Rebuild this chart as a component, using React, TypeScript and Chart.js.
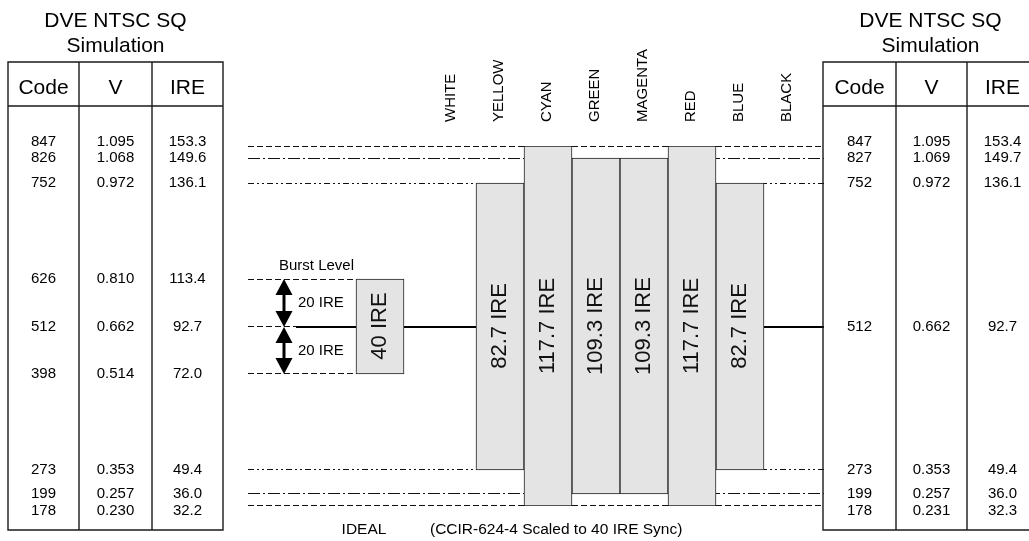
import React, { useEffect, useRef } from 'react';
import { Chart, registerables, LinearScale } from 'chart.js';

// ---------------- data ----------------
const COLOR_NAMES = ['WHITE', 'YELLOW', 'CYAN', 'GREEN', 'MAGENTA', 'RED', 'BLUE', 'BLACK'];
const BAR_TOP_IRE = [null, 136.1, 153.3, 149.6, 149.6, 153.3, 136.1, null];
const BAR_BOTTOM_IRE = [null, 49.4, 32.2, 36.0, 36.0, 32.2, 49.4, null];
const BAR_TEXT = ['', '82.7 IRE', '117.7 IRE', '109.3 IRE', '109.3 IRE', '117.7 IRE', '82.7 IRE', ''];

const BLANK_IRE = 92.7;
const BURST_TOP_IRE = 113.4;
const BURST_BOTTOM_IRE = 72.0;
const BURST_TEXT = '40 IRE';
const BURST_HALF_TEXT = '20 IRE';
const BURST_CAPTION = 'Burst Level';

const DASH_LEVELS = [153.3, 32.2];
const DASHDOT_LEVELS = [149.6, 36.0];
const DASHDOTDOT_LEVELS = [136.1, 49.4];

const LEFT_CODE = ['847', '826', '752', '626', '512', '398', '273', '199', '178'];
const LEFT_V = ['1.095', '1.068', '0.972', '0.810', '0.662', '0.514', '0.353', '0.257', '0.230'];
const LEFT_IRE = ['153.3', '149.6', '136.1', '113.4', '92.7', '72.0', '49.4', '36.0', '32.2'];

const RIGHT_CODE = ['847', '827', '752', '512', '273', '199', '178'];
const RIGHT_V = ['1.095', '1.069', '0.972', '0.662', '0.353', '0.257', '0.231'];
const RIGHT_IRE = ['153.4', '149.7', '136.1', '92.7', '49.4', '36.0', '32.3'];

const TABLE_TITLE = ['DVE NTSC SQ', 'Simulation'];
const TABLE_HEAD = ['Code', 'V', 'IRE'];
const FOOT_LEFT = 'IDEAL';
const FOOT_RIGHT = '(CCIR-624-4 Scaled to 40 IRE Sync)';

// ---------------- layout (positions / styles) ----------------
const W = 1029;
const H = 541;
const FONT = '"Liberation Sans", Arial, Helvetica, sans-serif';
const X_MIN = -4.25;
const X_MAX = 7.75;
const BURST_POS = -1.5;
const ARROW_POS = -3.5;
const BLANK_SOLID_FROM = -3.25;
// schematic (not-to-scale) vertical axis: IRE level -> fraction of plot height
const SCHEMATIC_IRE = [153.3, 149.6, 136.1, 113.4, 92.7, 72.0, 49.4, 36.0, 32.2];
const SCHEMATIC_FRAC = [0, 12, 37, 133, 181, 228, 324, 348, 360].map((v) => v / 360);

const LEFT_COLS = [8, 79, 152, 223];
const RIGHT_COLS = [823, 896, 967, 1038];
const TABLE_TOP = 62;
const TABLE_HEAD_BOTTOM = 106;
const TABLE_BOTTOM = 530;

function schematicFraction(v: number): number {
  const n = SCHEMATIC_IRE.length;
  let i = 0;
  if (v >= SCHEMATIC_IRE[0]) i = 0;
  else if (v <= SCHEMATIC_IRE[n - 1]) i = n - 2;
  else {
    for (i = 0; i < n - 1; i++) {
      if (v <= SCHEMATIC_IRE[i] && v >= SCHEMATIC_IRE[i + 1]) break;
    }
  }
  const t = (SCHEMATIC_IRE[i] - v) / (SCHEMATIC_IRE[i] - SCHEMATIC_IRE[i + 1]);
  return SCHEMATIC_FRAC[i] + t * (SCHEMATIC_FRAC[i + 1] - SCHEMATIC_FRAC[i]);
}

function schematicValue(f: number): number {
  const n = SCHEMATIC_FRAC.length;
  let i = 0;
  for (i = 0; i < n - 2; i++) {
    if (f <= SCHEMATIC_FRAC[i + 1]) break;
  }
  const t = (f - SCHEMATIC_FRAC[i]) / (SCHEMATIC_FRAC[i + 1] - SCHEMATIC_FRAC[i]);
  return SCHEMATIC_IRE[i] + t * (SCHEMATIC_IRE[i + 1] - SCHEMATIC_IRE[i]);
}

class SchematicScale extends (LinearScale as any) {
  static id = 'schematic';
  static defaults = (LinearScale as any).defaults;
  getPixelForValue(value: number) {
    return this.top + schematicFraction(value) * (this.bottom - this.top);
  }
  getValueForPixel(pixel: number) {
    return schematicValue((pixel - this.top) / (this.bottom - this.top));
  }
}

Chart.register(...registerables, SchematicScale as any);

// bar items: burst box + colour bars
const BAR_ITEMS: { x: number; lo: number; hi: number; text: string }[] = [
  { x: BURST_POS, lo: BURST_BOTTOM_IRE, hi: BURST_TOP_IRE, text: BURST_TEXT },
];
COLOR_NAMES.forEach((_, i) => {
  const hi = BAR_TOP_IRE[i];
  const lo = BAR_BOTTOM_IRE[i];
  if (hi != null && lo != null) BAR_ITEMS.push({ x: i, lo, hi, text: BAR_TEXT[i] });
});

function levelLine(level: number, from: number, to: number, dash: number[], width = 1, color = '#111') {
  return {
    type: 'line' as const,
    data: [
      { x: from, y: level },
      { x: to, y: level },
    ],
    borderColor: color,
    borderWidth: width,
    borderDash: dash,
    pointRadius: 0,
    fill: false,
    tension: 0,
    order: 2,
    clip: false as any,
  };
}

const DASH = [6, 3];
const DASHDOT = [12, 3, 2, 3];
const DASHDOTDOT = [6, 3, 2, 3, 2, 3];

function font(size: number) {
  return `${size}px ${FONT}`;
}

function drawArrow(ctx: CanvasRenderingContext2D, x: number, yTop: number, yBot: number) {
  const hw = 8.5;
  const hl = 16;
  ctx.save();
  ctx.strokeStyle = '#000';
  ctx.fillStyle = '#000';
  ctx.lineWidth = 3;
  ctx.beginPath();
  ctx.moveTo(x, yTop + hl - 1);
  ctx.lineTo(x, yBot - hl + 1);
  ctx.stroke();
  ctx.beginPath();
  ctx.moveTo(x, yTop);
  ctx.lineTo(x - hw, yTop + hl);
  ctx.lineTo(x + hw, yTop + hl);
  ctx.closePath();
  ctx.fill();
  ctx.beginPath();
  ctx.moveTo(x, yBot);
  ctx.lineTo(x - hw, yBot - hl);
  ctx.lineTo(x + hw, yBot - hl);
  ctx.closePath();
  ctx.fill();
  ctx.restore();
}

function drawTable(
  ctx: CanvasRenderingContext2D,
  cols: number[],
  yScale: any,
  code: string[],
  volts: string[],
  ire: string[]
) {
  ctx.save();
  ctx.strokeStyle = '#1a1a1a';
  ctx.lineWidth = 1.4;
  ctx.beginPath();
  ctx.rect(cols[0], TABLE_TOP, cols[3] - cols[0], TABLE_BOTTOM - TABLE_TOP);
  ctx.moveTo(cols[0], TABLE_HEAD_BOTTOM);
  ctx.lineTo(cols[3], TABLE_HEAD_BOTTOM);
  ctx.moveTo(cols[1], TABLE_TOP);
  ctx.lineTo(cols[1], TABLE_BOTTOM);
  ctx.moveTo(cols[2], TABLE_TOP);
  ctx.lineTo(cols[2], TABLE_BOTTOM);
  ctx.stroke();

  ctx.fillStyle = '#000';
  ctx.textAlign = 'center';
  ctx.textBaseline = 'middle';
  const cx = (cols[0] + cols[3]) / 2;
  ctx.font = font(21);
  ctx.fillText(TABLE_TITLE[0], cx, 21);
  ctx.fillText(TABLE_TITLE[1], cx, 46);
  const centers = [0, 1, 2].map((i) => (cols[i] + cols[i + 1]) / 2);
  TABLE_HEAD.forEach((h, i) => ctx.fillText(h, centers[i], 88));

  ctx.font = font(15);
  const n = ire.length;
  for (let r = 0; r < n; r++) {
    let y = yScale.getPixelForValue(parseFloat(ire[r]));
    if (r === 0) y -= 4;
    if (r === n - 1) y += 5;
    ctx.fillText(code[r], centers[0], y);
    ctx.fillText(volts[r], centers[1], y);
    ctx.fillText(ire[r], centers[2], y);
  }
  ctx.restore();
}

const diagramPlugin = {
  id: 'diagram',
  // snap thin level lines onto the pixel row of the adjoining bar edge
  beforeDatasetDraw(chart: any, args: any) {
    const ds = chart.data.datasets[args.index];
    if (ds.type === 'line' && ds.borderWidth === 1) {
      chart.ctx.save();
      chart.ctx.translate(0, ds.data[0].y > BLANK_IRE ? 0.5 : -0.5);
    }
  },
  afterDatasetDraw(chart: any, args: any) {
    const ds = chart.data.datasets[args.index];
    if (ds.type === 'line' && ds.borderWidth === 1) chart.ctx.restore();
  },
  afterDatasetsDraw(chart: any) {
    const ctx: CanvasRenderingContext2D = chart.ctx;
    const xs = chart.scales.x;
    const ys = chart.scales.y;
    const meta = chart.getDatasetMeta(0);
    const yBlank = ys.getPixelForValue(BLANK_IRE);

    // rotated labels inside bars
    ctx.save();
    ctx.fillStyle = '#111';
    ctx.font = font(22);
    ctx.textAlign = 'center';
    ctx.textBaseline = 'middle';
    meta.data.forEach((el: any, i: number) => {
      const text = BAR_ITEMS[i].text;
      if (!text) return;
      ctx.save();
      ctx.translate(el.x, yBlank - 1);
      ctx.rotate(-Math.PI / 2);
      ctx.fillText(text, 0, 0);
      ctx.restore();
    });
    ctx.restore();

    // burst arrows + labels
    const ax = xs.getPixelForValue(ARROW_POS);
    const yTop = ys.getPixelForValue(BURST_TOP_IRE);
    const yBot = ys.getPixelForValue(BURST_BOTTOM_IRE);
    drawArrow(ctx, ax, yTop, yBlank);
    drawArrow(ctx, ax, yBlank, yBot);
    ctx.save();
    ctx.fillStyle = '#000';
    ctx.font = font(15);
    ctx.textAlign = 'left';
    ctx.textBaseline = 'middle';
    ctx.fillText(BURST_CAPTION, ax - 5, yTop - 13);
    ctx.fillText(BURST_HALF_TEXT, ax + 14, (yTop + yBlank) / 2);
    ctx.fillText(BURST_HALF_TEXT, ax + 14, (yBlank + yBot) / 2);
    ctx.restore();
  },
  afterDraw(chart: any) {
    const ctx: CanvasRenderingContext2D = chart.ctx;
    const xs = chart.scales.x;
    const ys = chart.scales.y;
    const area = chart.chartArea;

    drawTable(ctx, LEFT_COLS, ys, LEFT_CODE, LEFT_V, LEFT_IRE);
    drawTable(ctx, RIGHT_COLS, ys, RIGHT_CODE, RIGHT_V, RIGHT_IRE);

    // colour names (rotated)
    ctx.save();
    ctx.fillStyle = '#000';
    ctx.font = font(15);
    ctx.textAlign = 'left';
    ctx.textBaseline = 'middle';
    COLOR_NAMES.forEach((name, i) => {
      ctx.save();
      ctx.translate(xs.getPixelForValue(i) - 1, area.top - 24);
      ctx.rotate(-Math.PI / 2);
      ctx.fillText(name, 0, 0);
      ctx.restore();
    });
    ctx.restore();

    // footer
    ctx.save();
    ctx.fillStyle = '#000';
    ctx.font = font(15.5);
    ctx.textBaseline = 'middle';
    ctx.textAlign = 'center';
    ctx.fillText(FOOT_LEFT, 364, 530);
    ctx.textAlign = 'left';
    ctx.fillText(FOOT_RIGHT, 430, 530);
    ctx.restore();
  },
};

export default function App() {
  const ref = useRef<HTMLCanvasElement>(null);
  useEffect(() => {
    const canvas = ref.current;
    if (!canvas) return;
    Chart.defaults.font.family = FONT;
    const datasets: any[] = [
      {
        type: 'bar',
        data: BAR_ITEMS.map((b) => ({ x: b.x, y: [b.lo, b.hi] })),
        backgroundColor: '#e4e4e4',
        borderColor: '#222',
        borderWidth: 1,
        borderSkipped: false,
        barPercentage: 1,
        categoryPercentage: 1,
        order: 1,
      },
      ...DASH_LEVELS.map((l) => levelLine(l, X_MIN, X_MAX, DASH)),
      ...DASHDOT_LEVELS.map((l) => levelLine(l, X_MIN, X_MAX, DASHDOT)),
      ...DASHDOTDOT_LEVELS.map((l) => levelLine(l, X_MIN, X_MAX, DASHDOTDOT)),
      levelLine(BURST_TOP_IRE, X_MIN, BURST_POS - 0.5, DASH),
      levelLine(BURST_BOTTOM_IRE, X_MIN, BURST_POS - 0.5, DASH),
      levelLine(BLANK_IRE, X_MIN, BLANK_SOLID_FROM, DASH),
      levelLine(BLANK_IRE, BLANK_SOLID_FROM, X_MAX, [], 2, '#000'),
    ];
    const chart = new Chart(canvas, {
      type: 'bar',
      data: { datasets },
      options: {
        responsive: false,
        maintainAspectRatio: false,
        animation: false,
        devicePixelRatio: 1,
        events: [],
        layout: { padding: { left: 248, right: W - 824, top: 146, bottom: H - 506 } },
        plugins: { legend: { display: false }, tooltip: { enabled: false }, title: { display: false } },
        scales: {
          x: {
            type: 'linear',
            min: X_MIN,
            max: X_MAX,
            offset: false,
            display: false,
            grid: { offset: false },
            ticks: { stepSize: 1, includeBounds: false },
          },
          y: {
            type: 'schematic' as any,
            min: 32.2,
            max: 153.3,
            display: false,
          },
        },
      } as any,
      plugins: [diagramPlugin],
    });
    return () => chart.destroy();
  }, []);
  return (
    <div style={{ position: 'absolute', left: 0, top: 0, width: W, height: H, background: '#fff' }}>
      <canvas ref={ref} width={W} height={H} style={{ display: 'block', width: W, height: H }} />
    </div>
  );
}
